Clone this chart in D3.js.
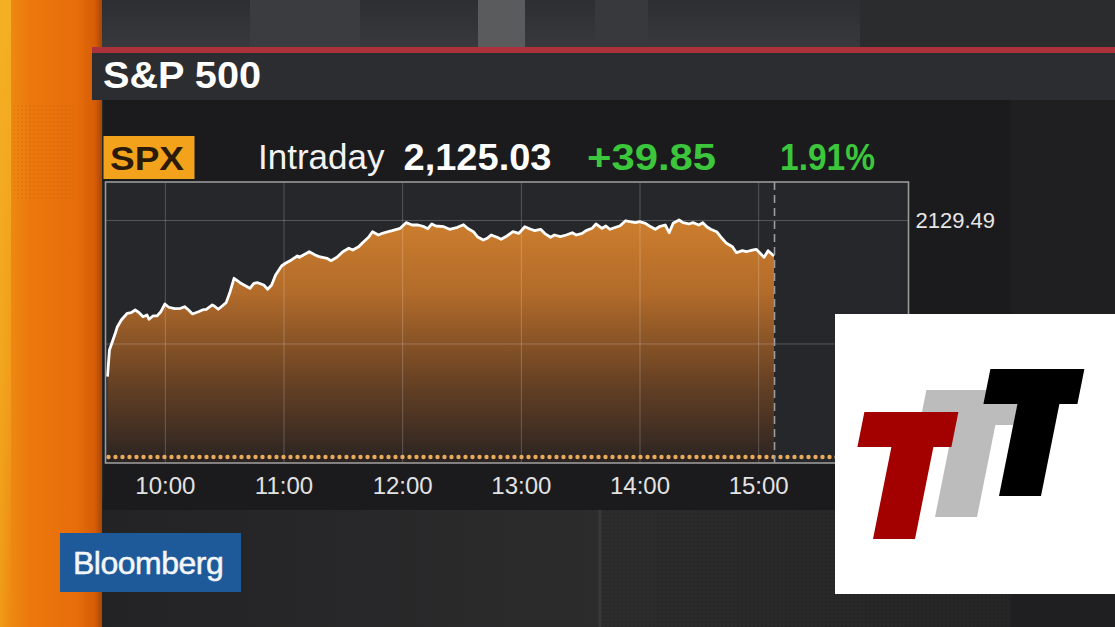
<!DOCTYPE html>
<html>
<head>
<meta charset="utf-8">
<script src="https://cdn.jsdelivr.net/npm/d3@7"></script>
<style>
  body { margin: 0; background: #222; }
  svg { display: block; font-family: "Liberation Sans", Arial, sans-serif; }
  .x.axis text { fill: #e2e2e2; font-size: 24px; }
  .y.axis text { fill: #e6e6e6; font-size: 22px; }
  .axis .domain { display: none; }
</style>
</head>
<body>
<svg width="1115" height="627"></svg>
<script>
// intraday S&P 500 readings
var times = ["9:31","9:32","9:35","9:36","9:38","9:41","9:43","9:45","9:47","9:49","9:51","9:52","9:54","9:56","9:58",
  "10:00","10:02","10:05","10:08","10:10","10:12","10:14","10:17","10:19","10:21","10:24","10:25","10:27","10:29","10:31",
  "10:33","10:35","10:38","10:40","10:43","10:45","10:47","10:50","10:52","10:54","10:56","10:59",
  "11:01","11:04","11:07","11:08","11:11","11:13","11:16","11:18","11:22","11:24","11:27","11:30","11:33","11:35","11:38",
  "11:40","11:43","11:45","11:48","11:50","11:53","11:55","11:59",
  "12:02","12:05","12:08","12:11","12:13","12:15","12:17","12:21","12:24","12:28","12:31","12:33","12:36","12:38","12:41",
  "12:43","12:45","12:48","12:50","12:53","12:56","12:59",
  "13:02","13:05","13:07","13:10","13:12","13:15","13:17","13:20","13:23","13:26","13:28","13:31","13:33","13:36","13:38",
  "13:41","13:43","13:45","13:48","13:50","13:53","13:55","13:58",
  "14:00","14:03","14:05","14:08","14:10","14:13","14:15","14:17","14:20","14:22","14:25","14:27","14:30","14:32","14:34",
  "14:36","14:39","14:41","14:44","14:47","14:49","14:52","14:54","14:57","14:59",
  "15:01","15:03","15:05","15:08"];
var values = [2110.08,2113.38,2115.49,2116.27,2117.10,2117.93,2118.01,2118.34,2118.01,2117.51,2117.72,2117.19,2117.60,2117.60,2118.13,
  2119.08,2118.68,2118.50,2118.55,2118.75,2118.34,2117.85,2118.13,2118.34,2118.43,2118.96,2118.84,2118.43,2118.84,2119.25,
  2120.61,2122.27,2121.72,2121.44,2121.03,2121.65,2121.72,2121.44,2120.91,2121.44,2122.68,2123.79,
  2124.13,2124.54,2125.03,2124.87,2125.28,2125.56,2125.16,2124.95,2124.75,2124.45,2124.87,2125.56,2125.99,2125.77,2126.18,
  2126.68,2127.35,2128.04,2127.63,2127.84,2128.04,2128.17,2128.46,
  2129.16,2128.87,2128.87,2128.66,2128.41,2129.00,2128.75,2128.66,2128.34,2128.59,2128.91,2128.46,2128.04,2127.42,2127.01,
  2127.22,2127.63,2127.35,2127.10,2127.51,2128.04,2127.84,
  2128.66,2128.34,2128.17,2128.34,2127.84,2127.35,2127.63,2127.42,2127.63,2127.92,2127.63,2127.84,2128.17,2128.46,2129.00,
  2128.46,2128.75,2128.34,2128.59,2128.75,2129.40,2129.28,2129.16,
  2129.28,2129.08,2128.75,2128.34,2128.66,2128.87,2127.92,2129.08,2129.49,2129.16,2129.00,2129.16,2128.87,2129.16,2128.66,
  2128.34,2128.04,2127.42,2126.60,2126.18,2125.44,2125.69,2125.56,2125.77,2125.86,
  2125.37,2124.87,2125.69,2125.03];
var hourTicks = ["10:00","11:00","12:00","13:00","14:00","15:00"];
var gridValues = [2129.49, 2114.19];
var prevClose = 2085.18;
var lastPrice = "2,125.03", netChange = "+39.85", pctChange = "1.91%";
var ticker = "SPX", title = "S&P 500", mode = "Intraday";

var parseTime = d3.timeParse("%H:%M");
var data = times.map(function(t, i) { return {t: parseTime(t), v: values[i]}; });

var svg = d3.select('svg');
var defs = svg.append('defs');

// ---------- backdrop ----------
svg.append('rect').attr('width', 1115).attr('height', 627).attr('fill', '#27282b');

var topG = defs.append('linearGradient').attr('id', 'topG').attr('x1', 0).attr('y1', 0).attr('x2', 0).attr('y2', 1);
topG.append('stop').attr('offset', 0).attr('stop-color', '#2c2e31');
topG.append('stop').attr('offset', 1).attr('stop-color', '#383a3d');
svg.append('rect').attr('x', 0).attr('y', 0).attr('width', 1115).attr('height', 50).attr('fill', 'url(#topG)');
[[250, 110, '#3a3c3f'], [478, 47, '#5a5b5d'], [595, 53, '#37393c'], [860, 255, '#2b2c2e']].forEach(function(b) {
    svg.append('rect').attr('x', b[0]).attr('y', 0).attr('width', b[1]).attr('height', 50).attr('fill', b[2]);
});

// lower backdrop
var botG = defs.append('linearGradient').attr('id', 'botG').attr('x1', 0).attr('y1', 0).attr('x2', 1).attr('y2', 0);
botG.append('stop').attr('offset', 0).attr('stop-color', '#232325');
botG.append('stop').attr('offset', 0.5).attr('stop-color', '#2c2c2d');
botG.append('stop').attr('offset', 1).attr('stop-color', '#232324');
svg.append('rect').attr('x', 100).attr('y', 500).attr('width', 1015).attr('height', 127).attr('fill', 'url(#botG)');
var dots = defs.append('pattern').attr('id', 'dots').attr('width', 4).attr('height', 4).attr('patternUnits', 'userSpaceOnUse');
dots.append('circle').attr('cx', 2).attr('cy', 2).attr('r', 0.8).attr('fill', '#000').attr('opacity', 0.2);
svg.append('rect').attr('x', 600).attr('y', 500).attr('width', 515).attr('height', 127).attr('fill', 'url(#dots)');
svg.append('line').attr('x1', 600).attr('x2', 600).attr('y1', 500).attr('y2', 627).attr('stroke', '#38383a').attr('stroke-width', 3);

// right dark column
svg.append('rect').attr('x', 1011).attr('y', 100).attr('width', 104).attr('height', 527).attr('fill', '#1f1f21');

// chart panel
svg.append('rect').attr('x', 103).attr('y', 100).attr('width', 908).attr('height', 410).attr('fill', '#1b1b1e');

// orange strip on the left
var orG = defs.append('linearGradient').attr('id', 'orG').attr('x1', 0).attr('y1', 0).attr('x2', 1).attr('y2', 0);
orG.append('stop').attr('offset', 0).attr('stop-color', '#f09c18');
orG.append('stop').attr('offset', 0.1).attr('stop-color', '#ee8912');
orG.append('stop').attr('offset', 0.3).attr('stop-color', '#ec780d');
orG.append('stop').attr('offset', 0.75).attr('stop-color', '#e76d0a');
orG.append('stop').attr('offset', 0.93).attr('stop-color', '#d65d07');
orG.append('stop').attr('offset', 1).attr('stop-color', '#a84604');
svg.append('rect').attr('x', 0).attr('y', 0).attr('width', 102).attr('height', 627).attr('fill', 'url(#orG)');
var yelG = defs.append('linearGradient').attr('id', 'yelG').attr('x1', 0).attr('y1', 0).attr('x2', 0).attr('y2', 1);
yelG.append('stop').attr('offset', 0).attr('stop-color', '#f4b023').attr('stop-opacity', 1);
yelG.append('stop').attr('offset', 0.6).attr('stop-color', '#f4b023').attr('stop-opacity', 0.5);
yelG.append('stop').attr('offset', 1).attr('stop-color', '#f4b023').attr('stop-opacity', 0);
svg.append('rect').attr('x', 0).attr('y', 0).attr('width', 11).attr('height', 627).attr('fill', 'url(#yelG)');
svg.append('rect').attr('x', 12).attr('y', 105).attr('width', 62).attr('height', 95).attr('fill', 'url(#dots)').attr('opacity', 0.5);

// header: red rule + title band
svg.append('rect').attr('x', 92).attr('y', 47).attr('width', 1023).attr('height', 6).attr('fill', '#ab323b');
svg.append('rect').attr('x', 92).attr('y', 53).attr('width', 1023).attr('height', 47).attr('fill', '#2c2d31');
svg.append('text').attr('x', 103).attr('y', 88)
    .attr('font-size', 36).attr('font-weight', 'bold').attr('fill', '#fff')
    .attr('textLength', 158).attr('lengthAdjust', 'spacingAndGlyphs')
    .text(title);

// quote line
svg.append('rect').attr('x', 103.5).attr('y', 136).attr('width', 91).attr('height', 43).attr('fill', '#f3a21c');
svg.append('text').attr('x', 110).attr('y', 170)
    .attr('font-size', 34).attr('font-weight', 'bold').attr('fill', '#2a1b08')
    .attr('textLength', 74).attr('lengthAdjust', 'spacingAndGlyphs').text(ticker);
svg.append('text').attr('x', 258).attr('y', 169).attr('font-size', 35).attr('fill', '#f2f2f2').text(mode);
svg.append('text').attr('x', 403.5).attr('y', 170).attr('font-size', 36).attr('font-weight', 'bold').attr('fill', '#fff')
    .attr('textLength', 148).attr('lengthAdjust', 'spacingAndGlyphs').text(lastPrice);
svg.append('text').attr('x', 587).attr('y', 170).attr('font-size', 36).attr('font-weight', 'bold').attr('fill', '#3cc63c')
    .attr('textLength', 129).attr('lengthAdjust', 'spacingAndGlyphs').text(netChange);
svg.append('text').attr('x', 780).attr('y', 170).attr('font-size', 36).attr('font-weight', 'bold').attr('fill', '#3cc63c')
    .attr('textLength', 95).attr('lengthAdjust', 'spacingAndGlyphs').text(pctChange);

// ---------- chart ----------
var frame = {l: 105.5, r: 908.5, t: 182, b: 463};

var xScale = d3.scaleTime()
    .domain([parseTime("9:30"), parseTime("16:16")])
    .range([frame.l, frame.r]);
var yScale = d3.scaleLinear()
    .domain([2099.38, 2134.20])
    .range([frame.b, frame.t]);

svg.append('rect').attr('x', frame.l).attr('y', frame.t)
    .attr('width', frame.r - frame.l).attr('height', frame.b - frame.t).attr('fill', '#26272b');

var areaG = defs.append('linearGradient').attr('id', 'areaG')
    .attr('gradientUnits', 'userSpaceOnUse').attr('x1', 0).attr('x2', 0)
    .attr('y1', yScale(d3.max(values))).attr('y2', frame.b);
areaG.append('stop').attr('offset', 0).attr('stop-color', '#cd7e2e');
areaG.append('stop').attr('offset', 0.3).attr('stop-color', '#b26b2a');
areaG.append('stop').attr('offset', 0.65).attr('stop-color', '#6a4324');
areaG.append('stop').attr('offset', 1).attr('stop-color', '#2a2322');

var area = d3.area()
    .x(function(d) { return xScale(d.t); })
    .y0(frame.b)
    .y1(function(d) { return yScale(d.v); });
var line = d3.line()
    .x(function(d) { return xScale(d.t); })
    .y(function(d) { return yScale(d.v); });

svg.append('path').datum(data).attr('d', area).attr('fill', 'url(#areaG)');

// grid lines drawn on top of the fill
var xAxis = d3.axisBottom(xScale)
    .tickValues(hourTicks.map(parseTime))
    .tickFormat(d3.timeFormat("%H:%M"))
    .tickSize(-(frame.b - frame.t))
    .tickPadding(8);
var xg = svg.append('g').attr('class', 'x axis')
    .attr('transform', 'translate(0,' + frame.b + ')')
    .call(xAxis);
xg.selectAll('.tick line').attr('stroke', '#fff').attr('stroke-opacity', 0.22);
xg.selectAll('.tick text').attr('dy', '0.78em').attr('y', 12)
    .attr('font-family', '"Liberation Sans", Arial, sans-serif');

var yAxis = d3.axisRight(yScale)
    .tickValues(gridValues)
    .tickFormat(function(d) { return d === d3.max(values) ? d3.format(".2f")(d) : ""; })
    .tickSize(-(frame.r - frame.l))
    .tickPadding(7);
var yg = svg.append('g').attr('class', 'y axis')
    .attr('transform', 'translate(' + frame.r + ',0)')
    .call(yAxis);
yg.selectAll('.tick line').attr('stroke', '#fff').attr('stroke-opacity', 0.22);
yg.selectAll('.tick text').attr('font-family', '"Liberation Sans", Arial, sans-serif');

// previous close marker (clamped to the bottom of the frame)
var closeY = Math.min(yScale(prevClose), frame.b - 6);
svg.append('line').attr('x1', frame.l + 3).attr('x2', frame.r).attr('y1', closeY).attr('y2', closeY)
    .attr('stroke', '#e9aa5c').attr('stroke-width', 4.4)
    .attr('stroke-linecap', 'round').attr('stroke-dasharray', '0 7');

// price line
svg.append('path').datum(data).attr('d', line)
    .attr('fill', 'none').attr('stroke', '#fff').attr('stroke-width', 2.8)
    .attr('stroke-linejoin', 'round');

// current time marker
var lastT = data[data.length - 1].t;
svg.append('line').attr('x1', xScale(lastT) + 0.5).attr('x2', xScale(lastT) + 0.5)
    .attr('y1', frame.t).attr('y2', frame.b)
    .attr('stroke', '#9c9c9c').attr('stroke-width', 1.6).attr('stroke-dasharray', '8 5');

// frame
svg.append('rect').attr('x', frame.l).attr('y', frame.t)
    .attr('width', frame.r - frame.l).attr('height', frame.b - frame.t)
    .attr('fill', 'none').attr('stroke', '#9a9a9a').attr('stroke-width', 1.6);

// ---------- Bloomberg tag ----------
svg.append('rect').attr('x', 60).attr('y', 533).attr('width', 181).attr('height', 59).attr('fill', '#1e5a9a');
svg.append('text').attr('x', 73).attr('y', 574).attr('font-size', 32).attr('fill', '#f4f6f8')
    .attr('stroke', '#f4f6f8').attr('stroke-width', 0.5)
    .attr('letter-spacing', -0.5).text('Bloomberg');

// ---------- TTT badge ----------
svg.append('rect').attr('x', 835).attr('y', 314).attr('width', 280).attr('height', 280).attr('fill', '#fff');
function tPath(x0, y0) {
    // italic T: stem bottom-left at (x0, y0), skewed right
    var s = 0.2, pts = [[0, 0], [42, 0], [42, 92], [60, 92], [60, 127], [-34, 127], [-34, 92], [0, 92]];
    return 'M' + pts.map(function(p) { return [x0 + p[0] + s * p[1], y0 - p[1]]; }).join('L') + 'Z';
}
svg.append('path').attr('d', tPath(935, 517)).attr('fill', '#bcbcbc');
svg.append('path').attr('d', tPath(873, 539)).attr('fill', '#a30000');
svg.append('path').attr('d', tPath(999, 496)).attr('fill', '#000');
</script>
</body>
</html>
